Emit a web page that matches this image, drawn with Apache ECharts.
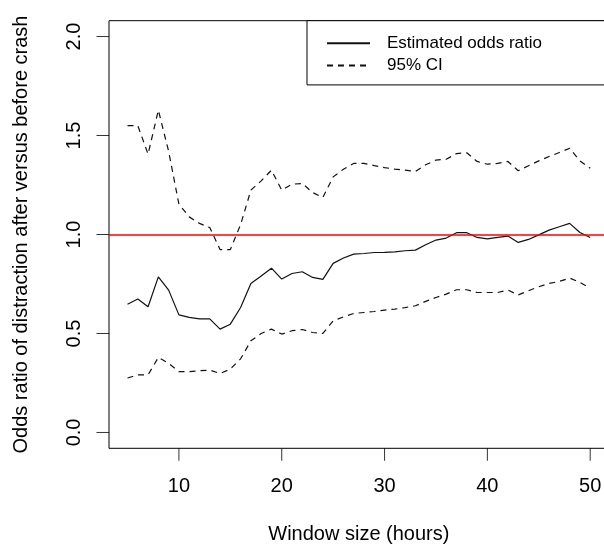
<!DOCTYPE html>
<html>
<head>
<meta charset="utf-8">
<script src="https://cdn.jsdelivr.net/npm/echarts@6/dist/echarts.min.js"></script>
<style>html,body{margin:0;padding:0;background:#fff;}#c{width:604px;height:550px;}</style>
</head>
<body>
<div id="c"></div>
<script>
const windowHours = [5,6,7,8,9,10,11,12,13,14,15,16,17,18,19,20,21,22,23,24,25,26,27,28,29,30,31,32,33,34,35,36,37,38,39,40,41,42,43,44,45,46,47,48,49,50];
const estimate = [0.648,0.674,0.635,0.786,0.719,0.594,0.581,0.574,0.574,0.522,0.547,
  0.631,0.753,0.79,0.83,0.775,0.803,0.812,0.783,0.773,0.854,0.881,0.901,
  0.904,0.909,0.91,0.912,0.918,0.921,0.948,0.972,0.982,1.009,1.009,0.985,
  0.978,0.985,0.992,0.96,0.975,0.998,1.022,1.039,1.056,1.01,0.985];
const upperCI = [1.55,1.55,1.406,1.628,1.42,1.153,1.089,1.056,1.035,0.924,0.924,
  1.05,1.224,1.271,1.325,1.224,1.254,1.258,1.212,1.187,1.291,1.33,1.359,
  1.359,1.348,1.338,1.33,1.325,1.318,1.352,1.376,1.38,1.409,1.413,1.369,
  1.355,1.359,1.369,1.322,1.347,1.372,1.394,1.414,1.436,1.372,1.335];
const lowerCI = [0.275,0.291,0.291,0.379,0.349,0.307,0.307,0.312,0.315,0.298,0.32,
  0.372,0.463,0.5,0.522,0.497,0.514,0.52,0.505,0.5,0.564,0.584,0.601,
  0.606,0.611,0.618,0.623,0.631,0.64,0.662,0.682,0.699,0.721,0.721,0.707,
  0.707,0.707,0.719,0.695,0.716,0.736,0.753,0.763,0.78,0.758,0.729];
const xTicks = [10,20,30,40,50];
const yTicks = [0,0.5,1,1.5,2];
const referenceValue = 1;

const font = 'Liberation Sans, Arial, sans-serif';
const pair = a => a.map((v,i)=>[windowHours[i], v]);

// plot box (R-style 4% padded ranges) and its pixel placement
const BOX = {x0: 3.2, x1: 51.8, y0: -0.08, y1: 2.08};
const BOX_PX = {left: 109, top: 20.7, width: 499.7, height: 427.6};
const PAD = 13;
const TICK_LEN = 12.5;
const pxX = BOX_PX.width / (BOX.x1 - BOX.x0);
const pxY = BOX_PX.height / (BOX.y1 - BOX.y0);

const tickSeries = (data, size, offset) => ({
  type: 'scatter', data: data, symbol: 'rect', symbolSize: size, symbolOffset: offset,
  itemStyle: {color: '#000'}, silent: true, clip: false, z: 5, tooltip: {show: false}
});

const chart = echarts.init(document.getElementById('c'), null, {renderer:'canvas'});
chart.setOption({
  animation: false,
  backgroundColor: '#fff',
  grid: {left: BOX_PX.left - PAD, top: BOX_PX.top - PAD, width: BOX_PX.width + 2*PAD, height: BOX_PX.height + 2*PAD,
         show: false, outerBoundsMode: 'none', containLabel: false},
  legend: {
    left: 307, top: 20.7, orient: 'vertical',
    data: ['Estimated odds ratio', '95% CI'],
    itemWidth: 43, itemHeight: 14, itemGap: 5.4,
    padding: [14, 80, 10.8, 19],
    borderColor: '#000', borderWidth: 1, backgroundColor: '#fff',
    itemStyle: {opacity: 0},
    textStyle: {fontFamily: font, fontSize: 17, color: '#000', lineHeight: 17, padding: [0,0,0,12]},
    selectedMode: false, z: 10
  },
  xAxis: {
    type: 'value', min: BOX.x0 - PAD/pxX, max: BOX.x1 + PAD/pxX, position: 'bottom', offset: -PAD,
    name: 'Window size (hours)', nameLocation: 'middle', nameGap: 76,
    nameTextStyle: {fontFamily: font, fontSize: 20, color: '#000'},
    axisLine: {show: false, onZero: false},
    axisTick: {show: false},
    axisLabel: {show: true, customValues: xTicks, fontFamily: font, fontSize: 20, color: '#000', margin: 28},
    splitLine: {show: false}
  },
  yAxis: {
    type: 'value', min: BOX.y0 - PAD/pxY, max: BOX.y1 + PAD/pxY, position: 'left', offset: -PAD,
    name: 'Odds ratio of distraction after versus before crash', nameLocation: 'middle', nameGap: 78,
    nameTextStyle: {fontFamily: font, fontSize: 20, color: '#000'},
    axisLine: {show: false, onZero: false},
    axisTick: {show: false},
    axisLabel: {show: true, customValues: yTicks, rotate: 90, fontFamily: font, fontSize: 20, color: '#000', margin: 25,
      formatter: v => v.toFixed(1)},
    splitLine: {show: false}
  },
  series: [
    {name: 'Estimated odds ratio', type: 'line', data: pair(estimate), symbol: 'none',
     lineStyle: {color: '#111', width: 1.2}, itemStyle: {color: '#111'},
     markArea: {silent: true, itemStyle: {color: 'rgba(0,0,0,0)', borderColor: '#000', borderWidth: 1},
       data: [[{coord: [BOX.x0, BOX.y0]}, {coord: [BOX.x1, BOX.y1]}]]},
     markLine: {silent: true, symbol: 'none', label: {show: false},
       lineStyle: {color: '#ff0000', width: 1.5, type: 'solid'},
       data: [[{coord: [BOX.x0, referenceValue]}, {coord: [BOX.x1, referenceValue]}]]}},
    {name: '95% CI', type: 'line', data: pair(upperCI), symbol: 'none',
     lineStyle: {color: '#111', width: 1.2, type: [6,5]}, itemStyle: {color: '#111'}},
    {name: '95% CI', type: 'line', data: pair(lowerCI), symbol: 'none',
     lineStyle: {color: '#111', width: 1.2, type: [6,5]}, itemStyle: {color: '#111'}},
    // axis tick marks, placed at the tick values on the box edges through the axes' scales
    tickSeries(xTicks.map(v => [v, BOX.y0]), [1, TICK_LEN], [0, TICK_LEN/2]),
    tickSeries(yTicks.map(v => [BOX.x0, v]), [TICK_LEN, 1], [-TICK_LEN/2, 0])
  ]
});
</script>
</body>
</html>
